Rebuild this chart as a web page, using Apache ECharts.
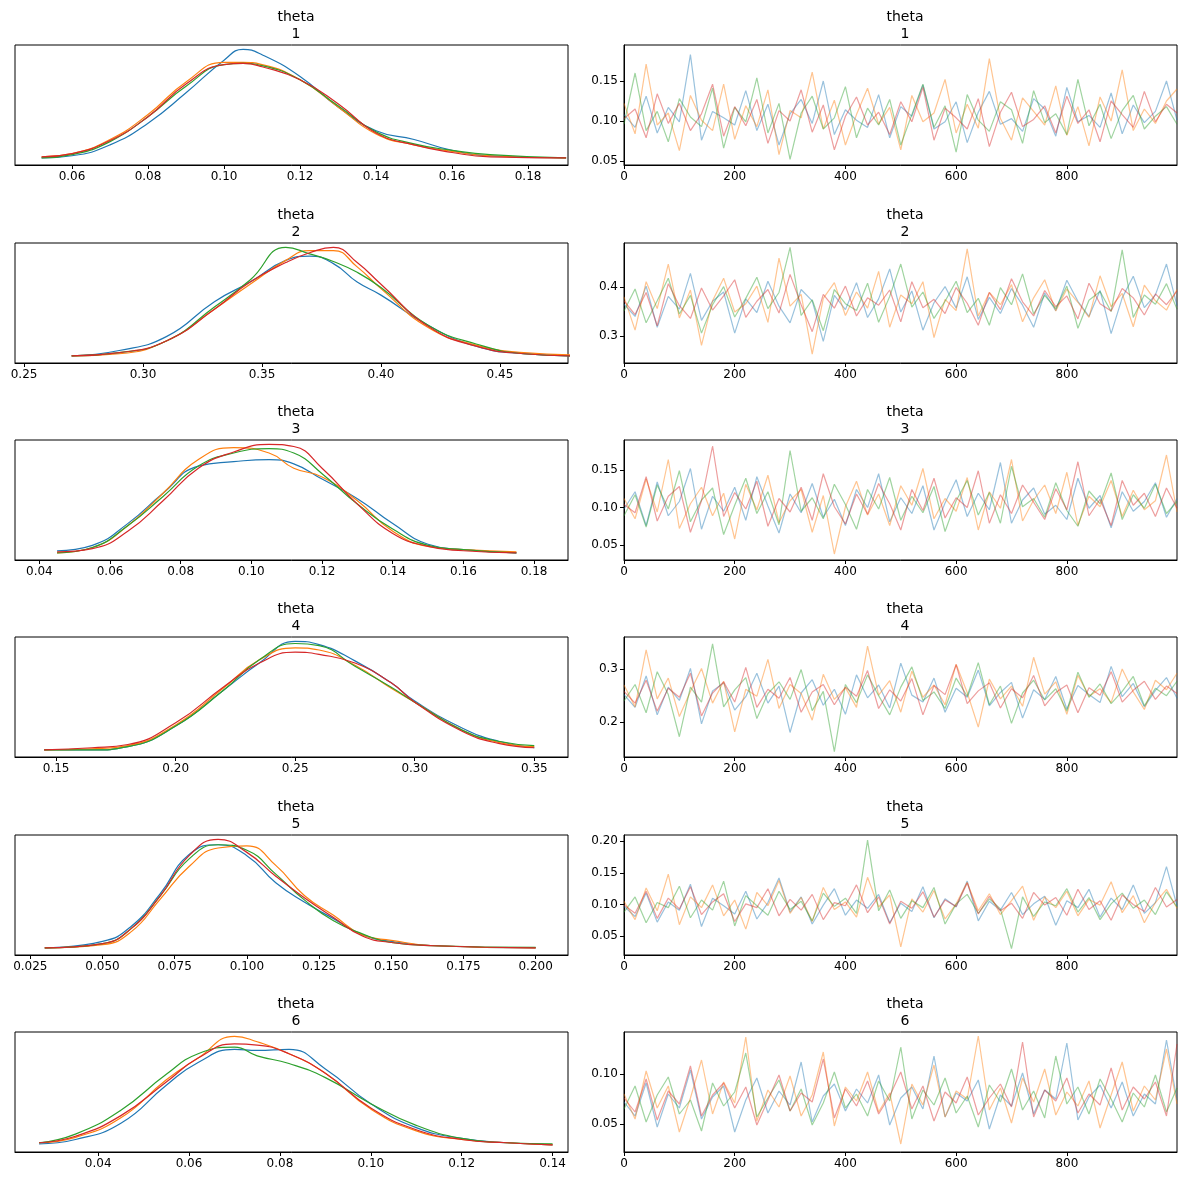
<!DOCTYPE html>
<html lang="en">
<head>
    <meta charset="UTF-8">
    <title>theta trace</title>
    <script src="https://cdn.jsdelivr.net/npm/echarts@6/dist/echarts.min.js"></script>
    <style>body{margin:0;background:#fff}</style>
</head>
<body>
<div id="main" style="width:1187px;height:1189px;"></div>
<script type="text/javascript">
// chain colours
var colors = ['#1f77b4', '#ff7f0e', '#2ca02c', '#d62728'];
var rowLabels = ['1', '2', '3', '4', '5', '6'];

// density plots (left): x grid and relative height per chain
var kdeX = [
    [0.052, 0.06, 0.07, 0.08, 0.09, 0.10, 0.105, 0.11, 0.12, 0.13, 0.14, 0.15, 0.16, 0.17, 0.19],
    [0.27, 0.29, 0.31, 0.33, 0.345, 0.36, 0.37, 0.38, 0.39, 0.40, 0.42, 0.44, 0.46, 0.48],
    [0.045, 0.055, 0.065, 0.075, 0.085, 0.095, 0.105, 0.112, 0.12, 0.13, 0.14, 0.15, 0.16, 0.175],
    [0.145, 0.165, 0.18, 0.20, 0.22, 0.235, 0.25, 0.26, 0.275, 0.29, 0.30, 0.32, 0.335, 0.35],
    [0.03, 0.05, 0.06, 0.07, 0.08, 0.09, 0.10, 0.11, 0.12, 0.13, 0.14, 0.15, 0.165, 0.2],
    [0.027, 0.035, 0.045, 0.055, 0.062, 0.07, 0.075, 0.082, 0.09, 0.10, 0.11, 0.12, 0.13, 0.14]
];
var kdeY = [
    [[0,.02,.12,.32,.6,.9,1.0,.95,.75,.47,.25,.17,.07,.02,0],
     [.01,.04,.17,.4,.7,.88,.88,.86,.72,.47,.22,.12,.06,.02,0],
     [0,.03,.15,.38,.66,.86,.87,.85,.72,.48,.24,.13,.07,.03,0],
     [.01,.04,.16,.38,.68,.86,.87,.84,.72,.5,.23,.12,.05,.01,0]],
    [[0,.05,.18,.5,.68,.88,.92,.85,.68,.56,.28,.09,.02,0],
     [0,.02,.14,.43,.66,.88,.97,.97,.82,.62,.26,.1,.03,.01],
     [0,.03,.14,.45,.7,1.0,.94,.87,.77,.63,.28,.11,.02,0],
     [0,.03,.14,.43,.68,.86,.95,1.0,.86,.66,.27,.09,.02,0]],
    [[.02,.07,.27,.55,.8,.84,.86,.82,.68,.5,.27,.08,.03,0],
     [0,.05,.25,.55,.86,.97,.92,.78,.7,.48,.2,.06,.03,.01],
     [0,.05,.25,.52,.8,.92,.96,.92,.73,.45,.22,.07,.03,0],
     [.01,.04,.2,.48,.78,.93,1.0,.98,.78,.45,.18,.06,.02,0]],
    [[0,0,.03,.22,.55,.8,1.0,.97,.82,.62,.45,.2,.08,.02],
     [0,.01,.04,.23,.57,.83,.94,.92,.78,.57,.44,.18,.07,.03],
     [0,0,.03,.22,.55,.83,.98,.96,.77,.58,.44,.18,.08,.04],
     [0,.02,.05,.25,.58,.8,.9,.88,.8,.62,.44,.17,.06,.02]],
    [[0,.06,.2,.5,.86,.95,.85,.6,.42,.27,.12,.06,.02,0],
     [0,.03,.15,.45,.75,.92,.94,.76,.48,.3,.12,.07,.02,0],
     [0,.04,.18,.48,.82,.95,.9,.68,.44,.25,.13,.05,.02,.005],
     [0,.04,.18,.48,.85,1.0,.88,.66,.46,.28,.11,.05,.02,0]],
    [[.01,.05,.2,.55,.76,.88,.87,.88,.7,.38,.16,.06,.02,0],
     [.02,.07,.25,.6,.8,1.0,.95,.84,.66,.33,.13,.05,.02,0],
     [.02,.1,.32,.65,.84,.9,.82,.75,.62,.38,.18,.06,.02,.01],
     [.02,.08,.27,.58,.8,.93,.92,.84,.66,.34,.14,.05,.02,0]]
];
var kdeMin = [0.045, 0.2462, 0.0331, 0.1328, 0.0197, 0.0217];
var kdeMax = [0.1905, 0.4786, 0.1896, 0.3641, 0.2112, 0.1434];
var kdeTicks = [
    [0.06, 0.08, 0.10, 0.12, 0.14, 0.16, 0.18],
    [0.25, 0.30, 0.35, 0.40, 0.45],
    [0.04, 0.06, 0.08, 0.10, 0.12, 0.14, 0.16, 0.18],
    [0.15, 0.20, 0.25, 0.30, 0.35],
    [0.025, 0.050, 0.075, 0.100, 0.125, 0.150, 0.175, 0.200],
    [0.04, 0.06, 0.08, 0.10, 0.12, 0.14]
];
var kdeDigits = [2, 2, 2, 2, 3, 2];

// trace plots (right): draw index and sampled values (thousandths) per chain
var traceX = [];
for (var i = 0; i <= 50; i++) traceX.push(i === 50 ? 999 : i * 20);
var traceV = [
    [[108,92,131,85,117,99,183,76,112,104,95,138,88,121,70,109,127,97,150,83,114,101,92,133,79,118,106,145,90,99,124,73,111,137,96,103,87,128,115,81,142,99,107,92,135,84,120,98,112,150,101],
     [122,84,171,95,110,63,132,101,88,146,77,119,93,139,58,113,104,161,90,126,70,108,141,96,117,64,132,99,110,152,85,121,91,178,103,76,129,112,95,144,82,118,69,130,100,164,88,115,97,125,140],
     [96,160,88,112,74,128,105,93,141,66,117,99,154,85,122,52,110,131,90,104,143,79,116,95,127,70,108,146,92,119,61,133,101,87,124,114,72,138,98,109,83,152,94,121,78,113,132,90,106,118,96],
     [103,115,79,134,97,122,88,109,146,81,118,94,127,72,113,100,139,86,120,64,106,130,95,111,83,124,99,142,76,116,104,90,128,68,111,136,93,102,119,85,131,97,114,74,125,108,92,137,99,121,110]],
    [[365,340,402,318,381,355,428,332,371,390,306,376,348,412,361,327,395,372,289,383,354,409,338,376,437,349,392,312,368,401,357,421,334,379,346,397,363,318,388,352,414,371,340,393,305,378,422,358,384,447,362],
     [380,312,411,356,447,337,394,281,372,418,349,366,402,328,459,361,385,263,377,409,342,390,357,432,318,384,366,411,297,375,352,478,341,389,364,405,329,378,415,351,396,369,338,423,360,387,319,404,372,353,395],
     [351,396,327,372,418,345,383,306,364,401,339,377,420,356,389,481,342,374,311,395,366,352,408,328,381,447,359,390,336,371,412,348,377,322,399,364,427,345,383,356,402,316,373,391,350,476,338,384,365,407,355],
     [372,344,389,321,407,362,336,398,353,382,415,338,371,395,347,426,364,309,385,357,402,341,378,363,394,329,411,358,375,346,399,367,322,389,354,417,370,341,393,360,382,335,408,366,351,397,378,343,386,364,392]],
    [[98,121,76,134,89,108,152,71,115,95,127,83,141,102,66,118,93,132,87,111,76,124,100,145,81,113,92,129,70,106,137,88,119,97,160,79,110,126,91,103,84,139,99,116,73,121,95,108,133,87,112],
     [112,85,138,94,164,72,105,127,89,119,58,131,97,143,80,109,124,67,116,38,101,135,90,118,76,129,103,152,85,112,95,140,70,121,99,164,82,110,130,92,147,76,115,101,136,88,123,97,109,170,94],
     [89,117,74,130,98,149,81,110,126,64,103,139,92,121,77,176,95,113,85,131,104,71,124,98,140,83,115,93,128,68,109,136,90,120,79,155,101,112,87,133,96,75,122,105,146,84,117,99,131,92,108],
     [104,93,141,82,115,128,67,109,182,88,120,98,135,75,112,94,127,83,145,101,78,118,91,132,105,70,124,96,139,86,113,100,149,79,117,92,130,107,84,125,97,161,89,111,76,136,103,119,88,126,99]],
    [[252,228,287,214,266,241,301,197,259,274,223,248,292,236,268,181,255,280,232,262,215,289,246,270,227,311,251,238,283,219,264,247,298,231,256,275,208,261,243,286,225,269,252,237,305,248,273,229,260,284,245],
     [270,229,336,244,283,211,258,301,236,277,182,262,249,318,226,271,254,204,290,243,265,228,343,251,278,219,296,247,270,233,309,256,191,281,244,268,230,322,253,276,215,288,249,263,237,300,257,224,279,261,292],
     [240,271,218,295,252,173,266,238,347,229,261,284,207,254,276,243,299,222,258,145,271,237,289,250,214,266,304,241,257,226,283,249,312,233,268,198,255,279,242,263,221,294,247,272,235,258,286,231,264,250,277],
     [258,236,279,221,264,247,292,212,255,276,238,303,228,262,245,284,219,257,271,233,266,249,297,226,261,240,282,214,269,252,308,235,259,274,227,263,246,288,231,256,270,218,265,251,295,238,260,277,243,268,254]],
    [[97,81,118,72,104,91,132,65,110,98,85,121,77,103,142,88,112,69,99,125,83,107,94,116,71,102,89,128,79,109,96,137,74,105,91,119,84,101,113,67,106,95,124,80,110,92,131,86,103,160,98],
     [105,76,126,90,148,68,112,95,131,82,107,61,119,98,138,86,111,73,127,92,104,80,143,96,115,33,109,88,122,77,101,135,90,117,84,106,129,75,112,95,121,82,108,99,136,87,114,71,103,124,94],
     [88,112,71,103,95,129,79,107,91,137,66,114,98,83,121,92,105,74,118,97,110,86,202,90,123,78,106,95,127,69,101,116,86,109,93,30,112,81,104,98,125,88,111,76,101,118,94,107,84,120,96],
     [99,86,121,78,110,93,128,84,104,117,73,101,95,125,82,108,91,116,76,103,98,131,87,112,69,105,94,120,80,107,97,134,85,113,90,102,78,119,99,111,83,124,92,106,75,115,100,89,127,96,108]],
    [[72,58,91,47,80,66,104,55,77,88,42,74,96,61,83,69,112,52,78,90,63,85,71,99,49,76,87,65,118,57,81,73,94,45,79,68,101,60,84,75,131,54,77,89,66,92,58,80,70,134,74],
     [80,55,103,66,88,42,76,114,60,92,71,137,53,84,67,98,58,79,122,48,87,73,102,62,81,30,90,69,109,57,83,75,138,64,86,51,96,72,105,59,82,68,93,46,79,112,63,88,74,125,70],
     [65,88,52,79,97,60,74,43,91,68,82,121,57,76,94,63,85,49,71,102,66,80,58,93,73,127,55,84,69,96,61,78,47,89,72,105,64,83,56,118,70,87,60,95,75,52,81,67,99,62,86],
     [76,62,95,54,83,70,108,58,79,91,66,87,49,74,99,63,81,72,115,56,85,68,93,60,78,102,65,88,53,82,71,97,59,76,90,67,132,57,84,73,96,61,80,69,106,64,87,75,92,58,130]]
];
var traceMin = [0.045, 0.245, 0.03, 0.135, 0.02, 0.022];
var traceMax = [0.195, 0.49, 0.19, 0.36, 0.21, 0.142];
var traceTicks = [
    [0.05, 0.10, 0.15],
    [0.3, 0.4],
    [0.05, 0.10, 0.15],
    [0.2, 0.3],
    [0.05, 0.10, 0.15, 0.20],
    [0.05, 0.10]
];
var traceDigits = [2, 1, 2, 1, 2, 2];
var traceXTicks = [0, 200, 400, 600, 800];

var rowTop = [45, 243, 440, 637, 835, 1032];
var font = 'DejaVu Sans';

var grids = [], xAxes = [], yAxes = [], series = [], titles = [];

function tickAxis(min, max, ticks, digits) {
    return {
        min: min, max: max,
        axisLine: { show: true, onZero: false, lineStyle: { color: '#000' } },
        splitLine: { show: false },
        axisTick: { show: true, length: 4, lineStyle: { color: '#000' }, customValues: ticks },
        axisLabel: {
            show: true, color: '#000', fontSize: 12, fontFamily: font, margin: 6,
            customValues: ticks,
            formatter: function (v) { return v.toFixed(digits); }
        }
    };
}

for (var r = 0; r < 6; r++) {
    // left: density
    var gl = grids.length;
    grids.push({ left: 15, width: 553, top: rowTop[r], height: 120, show: true, borderColor: '#000', borderWidth: 1 });
    var xl = tickAxis(kdeMin[r], kdeMax[r], kdeTicks[r], kdeDigits[r]);
    xl.type = 'value'; xl.gridIndex = gl;
    xAxes.push(xl);
    yAxes.push({ type: 'value', gridIndex: gl, min: -0.065, max: 1.04, show: false, splitLine: { show: false } });
    for (var c = 0; c < 4; c++) {
        series.push({
            type: 'line', xAxisIndex: gl, yAxisIndex: gl, smooth: true, showSymbol: false, animation: false,
            lineStyle: { color: colors[c], width: 1.2 },
            data: kdeX[r].map(function (x, k) { return [x, kdeY[r][c][k]]; })
        });
    }
    // right: trace
    var gr = grids.length;
    grids.push({ left: 624, width: 553, top: rowTop[r], height: 120, show: true, borderColor: '#000', borderWidth: 1 });
    var xr = tickAxis(0, 999, traceXTicks, 0);
    xr.type = 'value'; xr.gridIndex = gr;
    xAxes.push(xr);
    var yr = tickAxis(traceMin[r], traceMax[r], traceTicks[r], traceDigits[r]);
    yr.type = 'value'; yr.gridIndex = gr;
    yr.axisLabel.formatter = (function (d) { return function (v) { return v.toFixed(d === 1 ? 1 : 2); }; })(traceDigits[r]);
    yAxes.push(yr);
    for (var c2 = 0; c2 < 4; c2++) {
        series.push({
            type: 'line', xAxisIndex: gr, yAxisIndex: gr, showSymbol: false, animation: false,
            lineStyle: { color: colors[c2], width: 1.2, opacity: 0.45 },
            data: traceX.map(function (x, k) { return [x, traceV[r][c2][k] / 1000]; })
        });
    }
    [291, 900].forEach(function (cx) {
        titles.push({
            text: 'theta\n' + rowLabels[r], left: cx, top: rowTop[r] - 41, textAlign: 'center',
            textStyle: { fontSize: 14, fontWeight: 'normal', color: '#000', fontFamily: font, lineHeight: 17 }
        });
    });
}

var myChart = echarts.init(document.getElementById('main'));
myChart.setOption({
    backgroundColor: '#fff',
    animation: false,
    title: titles,
    grid: grids,
    xAxis: xAxes,
    yAxis: yAxes,
    series: series
});
</script>
</body>
</html>
